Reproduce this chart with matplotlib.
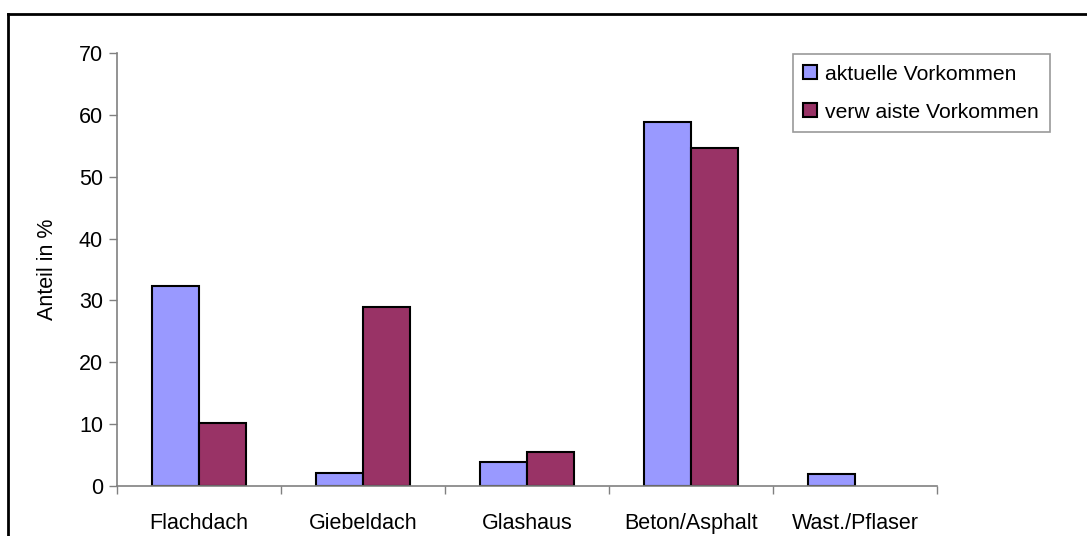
import matplotlib
matplotlib.use("Agg")
import matplotlib.pyplot as plt
from matplotlib.lines import Line2D
import numpy as np

plt.rcParams['font.family'] = ['Liberation Sans', 'DejaVu Sans']

categories = ["Flachdach", "Giebeldach", "Glashaus", "Beton/Asphalt", "Wast./Pflaser"]
aktuell = [32.3, 2.1, 3.75, 58.8, 1.9]
verwaist = [10.2, 28.9, 5.4, 54.6, 0.0]
series_labels = ["aktuelle Vorkommen", "verw aiste Vorkommen"]
y_ticks = [0, 10, 20, 30, 40, 50, 60, 70]

W, H = 1087, 536
fig = plt.figure(figsize=(W / 100, H / 100), dpi=100)
ax = fig.add_axes([117 / W, 1 - 485.5 / H, (937 - 117) / W, (485.5 - 53.3) / H])

x = np.arange(len(categories))
w = 1 / 3.5
b1 = ax.bar(x - w / 2, aktuell, w, color="#9999FF", edgecolor="black", linewidth=1.5,
            label=series_labels[0])
b2 = ax.bar(x + w / 2, verwaist, w, color="#993366", edgecolor="black", linewidth=1.5,
            label=series_labels[1])
for rect, v in zip(b2, verwaist):
    if v == 0:
        rect.set_visible(False)

ax.set_xlim(-0.5, len(categories) - 0.5)
ax.set_ylim(0, 70)
ax.set_yticks(y_ticks)
ax.set_xticks(np.arange(len(categories) + 1) - 0.5, minor=False)
ax.set_xticklabels([])
ax.set_xticks(x, minor=True)
ax.set_xticklabels(categories, minor=True)
ax.tick_params(axis="x", which="minor", length=0, labelsize=15.5, pad=20)
ax.tick_params(axis="x", which="major", length=6, width=1, color="#808080")
ax.tick_params(axis="y", length=6, width=1, color="#808080", labelsize=15.5, pad=4)

for side in ("top", "right"):
    ax.spines[side].set_visible(False)
for side in ("left", "bottom"):
    ax.spines[side].set_color("#808080")
    ax.spines[side].set_linewidth(1.2)

ax.set_ylabel("Anteil in %", fontsize=15.5, labelpad=15)

leg = fig.legend(handles=[b1, b2], labels=series_labels, loc="upper left",
                 bbox_to_anchor=(792.7 / W, 1 - 54 / H), borderaxespad=0,
                 fontsize=15.2, frameon=True, fancybox=False, shadow=False,
                 handlelength=0.65, handleheight=0.65, handletextpad=0.4,
                 borderpad=0.5, labelspacing=0.9, edgecolor="#808080")
leg.get_frame().set_linewidth(1.2)

# outer frame of the chart area
fig.add_artist(Line2D([8 / W, 8 / W], [0, 1 - 14 / H], transform=fig.transFigure,
                      color="black", linewidth=2))
fig.add_artist(Line2D([8 / W, 1], [1 - 14 / H, 1 - 14 / H], transform=fig.transFigure,
                      color="black", linewidth=2))

fig.savefig("out.png", dpi=100)
